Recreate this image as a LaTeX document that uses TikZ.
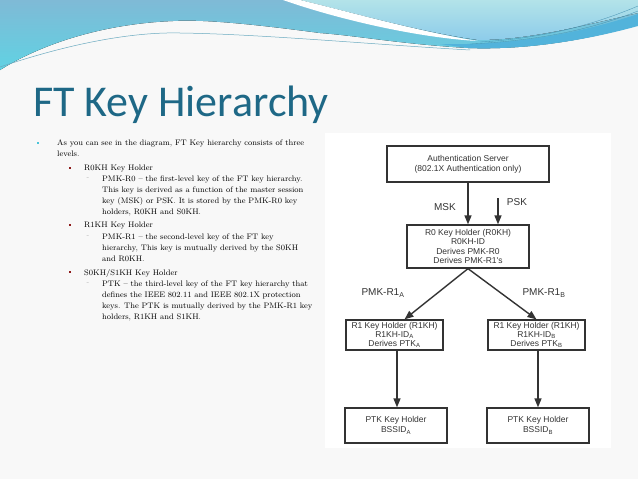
\documentclass[tikz,border=0pt]{standalone}
\usepackage{fontspec}
\usetikzlibrary{arrows.meta}
\newfontfamily\titlefont{Carlito}
\newfontfamily\boxfont{Liberation Sans}
\newcommand{\osn}[1]{\oldstylenums{#1}}
\definecolor{slidebg}{HTML}{F8F8F8}
\definecolor{wavetop}{HTML}{7FBAD6}
\definecolor{wavecyan}{HTML}{60D2E3}
\definecolor{waveband}{HTML}{52B3DB}
\definecolor{wavelight}{HTML}{B3E3E9}
\definecolor{wavelightlow}{HTML}{8DCCEA}
\definecolor{waveline}{HTML}{6AAAC0}
\definecolor{titleblue}{HTML}{1E6886}
\definecolor{bulletcyan}{HTML}{4BC4D9}
\definecolor{bulletred}{HTML}{8E1B1B}
\definecolor{figgray}{HTML}{333333}
\tikzset{
  bodytext/.style={anchor=north west, inner sep=0pt, align=left, font=\fontsize{8}{11}\selectfont, text=black},
  topbullet/.style={fill=bulletcyan, minimum size=2.6pt, inner sep=0pt},
  subbullet/.style={fill=bulletred, minimum size=2.6pt, inner sep=0pt},
  dashmark/.style={text=black!30, font=\fontsize{7}{7}\selectfont, inner sep=0pt},
  keybox/.style={draw=figgray, line width=1.3pt, fill=white, align=center, text=figgray, inner sep=0pt},
  keylabel/.style={font=\boxfont\fontsize{10}{10}\selectfont, text=figgray, inner sep=0pt},
  keyarrow/.style={draw=figgray, line width=1.4pt, -{Triangle[length=9pt,width=7pt]}},
}
\begin{document}
\begin{tikzpicture}[x=1pt,y=-1pt]
\useasboundingbox (0,0) rectangle (638,479);
\fill[slidebg] (0,0) rectangle (638,479);
% Drawing the wave across the top
\fill[top color=wavetop, bottom color=wavecyan] (0,0) -- (638,0) -- (638,25) .. controls (580,42) and (520,50) .. (468,48) .. controls (400,44) and (360,36) .. (320,33) .. controls (260,25) and (205,19) .. (173,21) .. controls (100,24) and (40,45) .. (0,70) -- cycle;
\fill[waveband] (440,44) .. controls (520,46) and (590,30) .. (638,14) -- (638,26) .. controls (580,42) and (520,50) .. (468,48) -- cycle;
\fill[top color=wavelight, bottom color=wavelightlow] (300,0) -- (638,0) -- (638,13) .. controls (585,25) and (530,40) .. (478,40) .. controls (420,32) and (350,12) .. (300,0) -- cycle;
\fill[white] (283,0) -- (300,0) .. controls (350,12) and (420,32) .. (478,41) .. controls (420,38) and (340,20) .. (283,0) -- cycle;
\draw[waveline, line width=0.5pt] (0,67) .. controls (80,40) and (140,32) .. (180,33) .. controls (260,34) and (380,45) .. (470,50);
\draw[waveband!80!black, line width=0.3pt] (480,42) .. controls (550,38) and (600,22) .. (638,6);
\draw[waveband!80!black, line width=0.3pt] (470,44) .. controls (550,40) and (600,26) .. (638,11);
% Done with the wave; drawing the title
\node[anchor=base west, inner sep=0pt, text=titleblue, font=\titlefont\fontsize{44}{44}\selectfont] (title) at (33,116) {FT Key Hierarchy};
% Drawing the bullet list
\node[topbullet] (bulA) at (38,143) {};
\node[bodytext] (txtA) at (57,140) {As you can see in the diagram, FT Key hierarchy consists of three\\levels.};
% Line: R0KH
\node[subbullet] (bulB) at (70,168) {};
\node[bodytext] (txtB) at (84,165) {R\osn{0}KH Key Holder};
\node[dashmark] (dshB) at (88,179) {-};
\node[bodytext] (txtBB) at (102,176) {PMK-R\osn{0} -- the first-level key of the FT key hierarchy.\\This key is derived as a function of the master session\\key (MSK) or PSK. It is stored by the PMK-R\osn{0} key\\holders, R\osn{0}KH and S\osn{0}KH.};
% Line: R1KH
\node[subbullet] (bulC) at (70,225) {};
\node[bodytext] (txtC) at (84,222) {R\osn{1}KH Key Holder};
\node[dashmark] (dshC) at (88,237) {-};
\node[bodytext] (txtCC) at (102,234) {PMK-R\osn{1} -- the second-level key of the FT key\\hierarchy, This key is mutually derived by the S\osn{0}KH\\and R\osn{0}KH.};
% Line: S0KH/S1KH
\node[subbullet] (bulD) at (70,272) {};
\node[bodytext] (txtD) at (84,269) {S\osn{0}KH/S\osn{1}KH Key Holder};
\node[dashmark] (dshD) at (88,284) {-};
\node[bodytext] (txtDD) at (102,281) {PTK -- the third-level key of the FT key hierarchy that\\defines the IEEE \osn{802}.\osn{11} and IEEE \osn{802}.\osn{1}X protection\\keys. The PTK is mutually derived by the PMK-R\osn{1} key\\holders, R\osn{1}KH and S\osn{1}KH.};
% Done with the list; drawing the key diagram
\fill[white] (325,133) rectangle (611,448);
\node[keybox, minimum width=162pt, minimum height=36pt, font=\boxfont\fontsize{8.5}{10}\selectfont] (auth) at (468,164) {Authentication Server\\(802.1X Authentication only)};
\node[keybox, minimum width=122pt, minimum height=43pt, font=\boxfont\fontsize{8.5}{9.2}\selectfont] (r0kh) at (468,246.5) {R0 Key Holder (R0KH)\\R0KH-ID\\Derives PMK-R0\\Derives PMK-R1's};
\node[keybox, minimum width=97pt, minimum height=30pt, font=\boxfont\fontsize{8.5}{8.7}\selectfont] (r1a) at (394.5,335) {R1 Key Holder (R1KH)\\R1KH-ID\textsubscript{A}\\Derives PTK\textsubscript{A}};
\node[keybox, minimum width=97pt, minimum height=30pt, font=\boxfont\fontsize{8.5}{8.7}\selectfont] (r1b) at (536.5,335) {R1 Key Holder (R1KH)\\R1KH-ID\textsubscript{B}\\Derives PTK\textsubscript{B}};
\node[keybox, minimum width=102pt, minimum height=35pt, font=\boxfont\fontsize{8.5}{10}\selectfont] (ptka) at (396,425.5) {PTK Key Holder\\BSSID\textsubscript{A}};
\node[keybox, minimum width=102pt, minimum height=35pt, font=\boxfont\fontsize{8.5}{10}\selectfont] (ptkb) at (538,425.5) {PTK Key Holder\\BSSID\textsubscript{B}};
% Drawing the arrows and their labels
\coordinate (pskin) at (498,198);
\draw[keyarrow] (auth.south) -- (r0kh.north);
\draw[keyarrow] (pskin) -- (pskin |- r0kh.north);
\draw[keyarrow] (r0kh.south) -- ([xshift=10pt]r1a.north);
\draw[keyarrow] (r0kh.south) -- (r1b.north);
\draw[keyarrow] ([xshift=2.5pt]r1a.south) -- ([xshift=2.5pt]r1a.south |- ptka.north);
\draw[keyarrow] ([xshift=1.5pt]r1b.south) -- ([xshift=1.5pt]r1b.south |- ptkb.north);
\node[keylabel] (msk) at (445,207) {MSK};
\node[keylabel] (psk) at (517,202) {PSK};
\node[keylabel] (pmka) at (383,293) {PMK-R1\textsubscript{A}};
\node[keylabel] (pmkb) at (544,293) {PMK-R1\textsubscript{B}};
% Done with the diagram
\end{tikzpicture}
\end{document}
